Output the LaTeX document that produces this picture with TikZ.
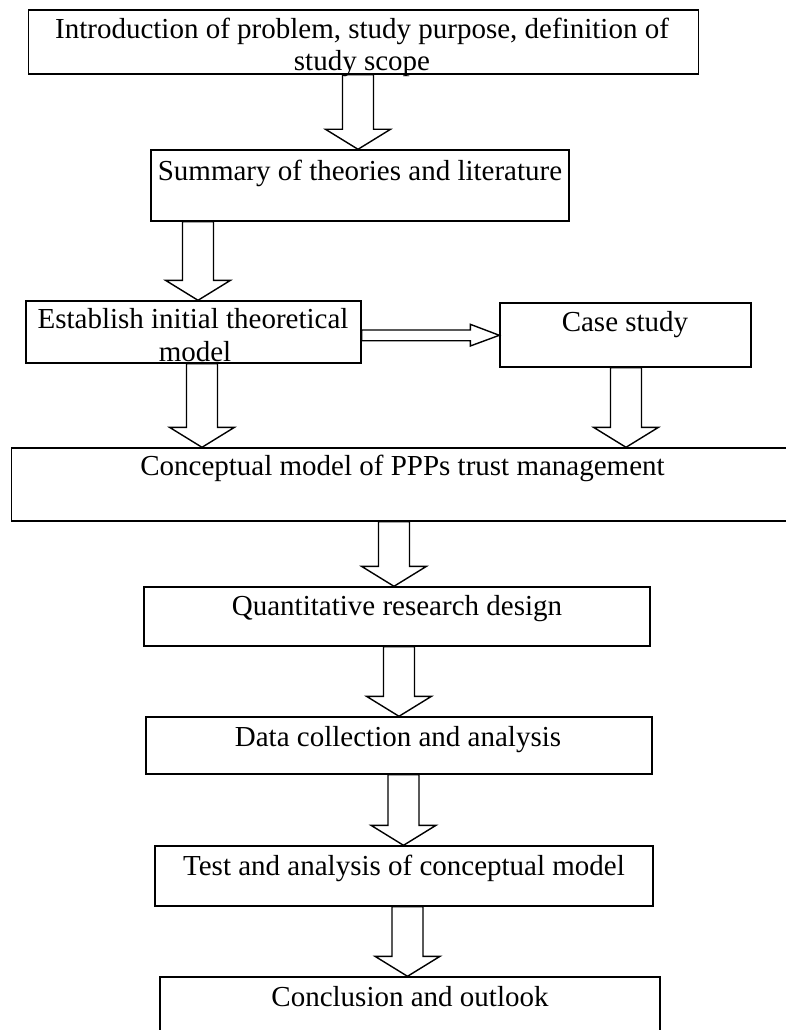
\documentclass[tikz,border=0pt]{standalone}
\usepackage{fontspec}
\setmainfont{Liberation Serif}
\usetikzlibrary{fit,calc}
\tikzset{
  box/.style={draw=black, line width=1.4pt, inner sep=0pt, fill=none},
  blk/.style={draw=black, fill=white, line width=1.4pt, line join=miter},
  lbl/.style={anchor=base, inner sep=0pt, font=\fontsize{29}{32}\selectfont},
}
\newcommand\dnarr[3]{%
  \draw[blk] let \p1=(#1,0), \p2=(#2), \p3=(#3) in
    (\x1-15.5pt,\y2) -- (\x1-15.5pt,\y3+20pt) -- (\x1-32.5pt,\y3+20pt) -- (\x1,\y3)
    -- (\x1+32.5pt,\y3+20pt) -- (\x1+15.5pt,\y3+20pt) -- (\x1+15.5pt,\y2) -- cycle;}
\begin{document}
\begin{tikzpicture}[x=1pt,y=-1pt]
\useasboundingbox (0,0) rectangle (786,1030);
\clip (0,0) rectangle (786,1030);
% boxes
\node[box, fit={(28.5,10) (698.5,74)}] (b1) {};
\node[box, fit={(151,150) (569,221)}] (b2) {};
\node[box, fit={(26,301) (361,363)}] (b3) {};
\node[box, fit={(500,303) (751,367)}] (b4) {};
\node[box, fit={(11.5,448) (800,521)}] (b5) {};
\node[box, fit={(144,587) (650,646)}] (b6) {};
\node[box, fit={(146,717) (652,774)}] (b7) {};
\node[box, fit={(155,846) (653,906)}] (b8) {};
\node[box, fit={(160,977) (660,1045)}] (b9) {};
% block arrows
\dnarr{358}{b1.south}{b2.north}
\dnarr{198}{b2.south}{b3.north}
\dnarr{202}{b3.south}{b5.north}
\dnarr{626}{b4.south}{b5.north}
\dnarr{394}{b5.south}{b6.north}
\dnarr{399}{b6.south}{b7.north}
\dnarr{403.5}{b7.south}{b8.north}
\dnarr{407.5}{b8.south}{b9.north}
\draw[blk] let \p1=(b3.east), \p2=(b4.west) in
  (\x1,-330pt) -- (\x2-29pt,-330pt) -- (\x2-29pt,-324.3pt) -- (\x2,-335.3pt)
  -- (\x2-29pt,-346pt) -- (\x2-29pt,-340.7pt) -- (\x1,-340.7pt) -- cycle;
% texts
\node[lbl] (t1a) at (362,39) {Introduction of problem, study purpose, definition of};
\node[lbl] (t1b) at (362,71) {study scope};
\node[lbl] (t2) at (360,180) {Summary of theories and literature};
\node[lbl] (t3a) at (193,328) {Establish initial theoretical};
\node[lbl] (t3b) at (195,361.5) {model};
\node[lbl] (t4) at (625,331.5) {Case study};
\node[lbl] (t5) at (402.5,475) {Conceptual model of PPPs trust management};
\node[lbl] (t6) at (397,615.5) {Quantitative research design};
\node[lbl] (t7) at (398,746) {Data collection and analysis};
\node[lbl] (t8) at (404,875) {Test and analysis of conceptual model};
\node[lbl] (t9) at (410,1006) {Conclusion and outlook};
\end{tikzpicture}
\end{document}
